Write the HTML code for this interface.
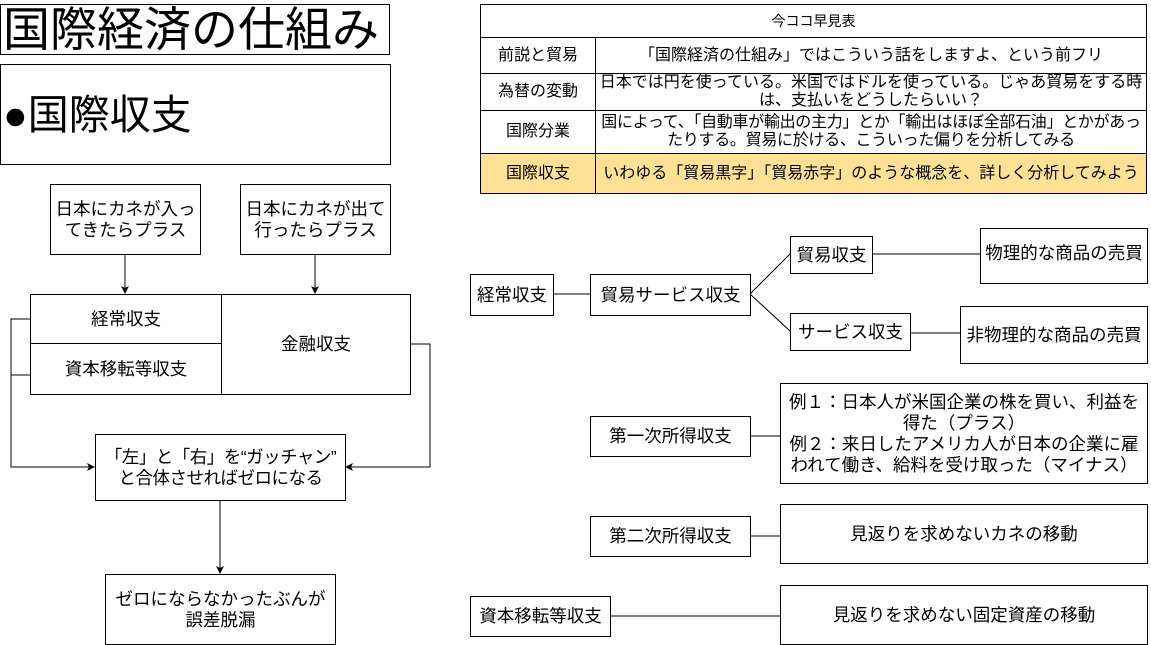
<!DOCTYPE html>
<html><head><meta charset="utf-8"><style>
body{margin:0;width:1151px;height:645px;background:#fff;position:relative;overflow:hidden;font-family:"Liberation Sans","Noto Sans CJK JP",sans-serif;color:#000}
.b{position:absolute;box-sizing:border-box;border:1px solid #000;display:flex;align-items:center;justify-content:center;text-align:center;font-size:17.5px;line-height:21px;background:#fff}
svg{position:absolute;left:0;top:0}
table{position:absolute;left:480px;top:4px;width:667px;border-collapse:collapse;font-size:16px;line-height:18px}
td{border:1px solid #000;text-align:center;padding:0;box-sizing:border-box}
</style></head><body>
<svg width="1151" height="645">
<defs><marker id="a" markerWidth="8" markerHeight="8" refX="7" refY="4" orient="auto" markerUnits="userSpaceOnUse"><path d="M0,0L8,4L0,8L2,4z" fill="#000"/></marker></defs>
<g stroke="#000" fill="none" stroke-width="1">
<line x1="125" y1="254" x2="125" y2="293" marker-end="url(#a)"/>
<line x1="315" y1="254" x2="315" y2="293" marker-end="url(#a)"/>
<polyline points="30,319 11,319 11,467 94,467" marker-end="url(#a)"/>
<line x1="11" y1="375" x2="30" y2="375"/>
<polyline points="410,344 430,344 430,467 346,467" marker-end="url(#a)"/>
<line x1="220" y1="500" x2="220" y2="573" marker-end="url(#a)"/>
<line x1="553" y1="294" x2="590" y2="294"/>
<line x1="750" y1="294" x2="790" y2="254"/>
<line x1="750" y1="294" x2="790" y2="331"/>
<line x1="872" y1="254" x2="980" y2="254"/>
<line x1="910" y1="333" x2="960" y2="333"/>
<line x1="750" y1="436" x2="780" y2="436"/>
<line x1="750" y1="536" x2="780" y2="536"/>
<line x1="610" y1="616" x2="780" y2="616"/>
</g></svg>
<div class="b" style="left:0;top:4px;width:390px;height:51px;font-size:47px;line-height:50px;justify-content:flex-start;padding-left:2px;white-space:nowrap">国際経済の仕組み</div>
<div class="b" style="left:0;top:64px;width:391px;height:101px;font-size:41px;line-height:48px;justify-content:flex-start;padding-left:2px">●国際収支</div>
<div class="b" style="left:50px;top:184px;width:151px;height:71px">日本にカネが入っ<br>てきたらプラス</div>
<div class="b" style="left:240px;top:184px;width:151px;height:71px">日本にカネが出て<br>行ったらプラス</div>
<div class="b" style="left:30px;top:294px;width:192px;height:50px">経常収支</div>
<div class="b" style="left:30px;top:343px;width:192px;height:52px">資本移転等収支</div>
<div class="b" style="left:221px;top:294px;width:190px;height:101px">金融収支</div>
<div class="b" style="left:95px;top:434px;width:251px;height:67px;white-space:nowrap;letter-spacing:-0.5px">「左」と「右」を“ガッチャン”<br>と合体させればゼロになる</div>
<div class="b" style="left:105px;top:574px;width:231px;height:71px">ゼロにならなかったぶんが<br>誤差脱漏</div>
<table>
<tr style="height:33px"><td colspan="2" style="font-size:14px">今ココ早見表</td></tr>
<tr style="height:36px"><td style="width:115px">前説と貿易</td><td>「国際経済の仕組み」ではこういう話をしますよ、という前フリ</td></tr>
<tr style="height:37px"><td>為替の変動</td><td>日本では円を使っている。米国ではドルを使っている。じゃあ貿易をする時<br>は、支払いをどうしたらいい？</td></tr>
<tr style="height:43px"><td>国際分業</td><td style="white-space:nowrap;letter-spacing:-0.3px">国によって、「自動車が輸出の主力」とか「輸出はほぼ全部石油」とかがあっ<br>たりする。貿易に於ける、こういった偏りを分析してみる</td></tr>
<tr style="height:40px;background:#ffe196"><td>国際収支</td><td>いわゆる「貿易黒字」「貿易赤字」のような概念を、詳しく分析してみよう</td></tr>
</table>
<div class="b" style="left:470px;top:274px;width:84px;height:42px">経常収支</div>
<div class="b" style="left:590px;top:274px;width:161px;height:42px">貿易サービス収支</div>
<div class="b" style="left:790px;top:236px;width:83px;height:38px">貿易収支</div>
<div class="b" style="left:980px;top:228px;width:168px;height:56px;align-items:flex-start;padding-top:14px;white-space:nowrap">物理的な商品の売買</div>
<div class="b" style="left:790px;top:313px;width:121px;height:38px">サービス収支</div>
<div class="b" style="left:960px;top:306px;width:188px;height:58px;white-space:nowrap">非物理的な商品の売買</div>
<div class="b" style="left:590px;top:416px;width:161px;height:41px">第一次所得収支</div>
<div class="b" style="left:780px;top:383px;width:368px;height:101px;line-height:21px;white-space:nowrap">例１：日本人が米国企業の株を買い、利益を<br>得た（プラス）<br>例２：来日したアメリカ人が日本の企業に雇<br>われて働き、給料を受け取った（マイナス）</div>
<div class="b" style="left:590px;top:516px;width:161px;height:41px">第二次所得収支</div>
<div class="b" style="left:780px;top:504px;width:368px;height:60px">見返りを求めないカネの移動</div>
<div class="b" style="left:470px;top:596px;width:141px;height:41px">資本移転等収支</div>
<div class="b" style="left:780px;top:585px;width:368px;height:60px">見返りを求めない固定資産の移動</div>
</body></html>
